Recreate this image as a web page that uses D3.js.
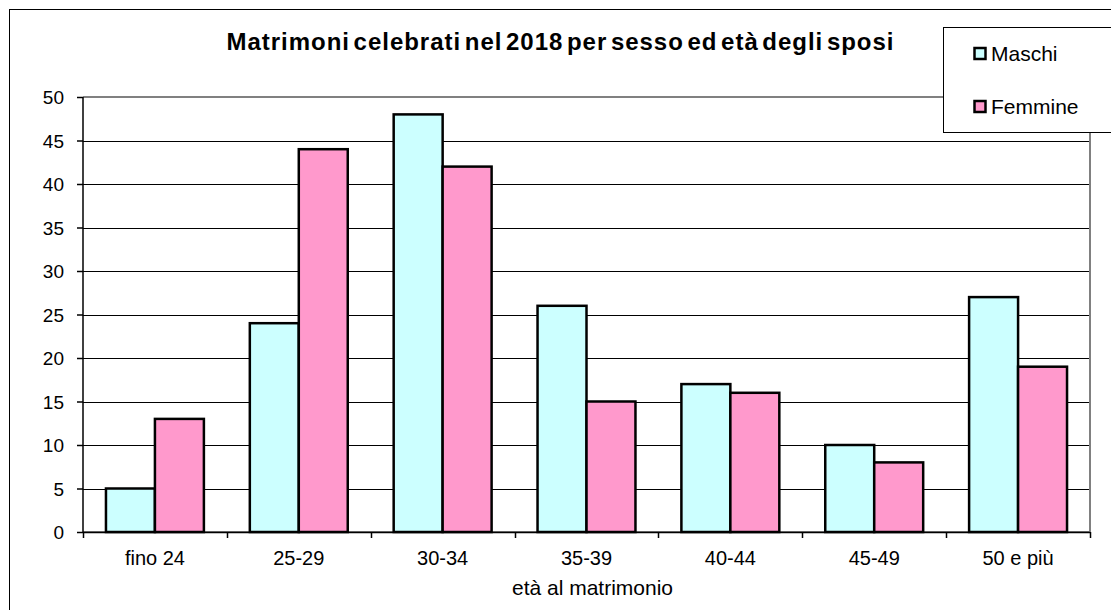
<!DOCTYPE html>
<html><head><meta charset="utf-8">
<script src="https://cdn.jsdelivr.net/npm/d3@7"></script>
<style>body{margin:0;background:#fff}svg{display:block}text{font-family:"Liberation Sans",Arial,sans-serif}</style>
</head><body>
<svg id="c" width="1111" height="610"></svg>
<script>
const categories = ["fino 24","25-29","30-34","35-39","40-44","45-49","50 e più"];
const maschi = [5,24,48,26,17,10,27];
const femmine = [13,44,42,15,16,8,19];
const yTicks = [0,5,10,15,20,25,30,35,40,45,50];
const seriesNames = ["Maschi","Femmine"];
const colors = ["#CCFFFF","#FF99CC"];

const svg = d3.select("#c");
const L = 83, R = 1090, T = 97, B = 532;
const FF = "Liberation Sans, Arial, sans-serif";

svg.append("rect").attr("x",9.5).attr("y",9.5).attr("width",1120).attr("height",620)
  .attr("fill","#fff").attr("stroke","#000").attr("stroke-width",1);

const x = d3.scaleBand().domain(categories).range([L,R]).paddingInner(0).paddingOuter(0);
const xs = d3.scaleBand().domain(seriesNames).range([0,x.bandwidth()]).paddingInner(0).paddingOuter(0.469);
const y = d3.scaleLinear().domain([0,50]).range([B,T]);

// gridlines
svg.append("g").selectAll("line").data(yTicks.filter(d=>d>0 && d<50)).join("line")
  .attr("x1",L).attr("x2",R).attr("y1",d=>Math.round(y(d))+0.5).attr("y2",d=>Math.round(y(d))+0.5)
  .attr("stroke","#000").attr("stroke-width",1);
// plot border (gray)
svg.append("line").attr("x1",L).attr("x2",R).attr("y1",T).attr("y2",T).attr("stroke","#808080").attr("stroke-width",2);
svg.append("line").attr("x1",R).attr("x2",R).attr("y1",T).attr("y2",B).attr("stroke","#808080").attr("stroke-width",2);
svg.append("line").attr("x1",L).attr("x2",R).attr("y1",B).attr("y2",B).attr("stroke","#808080").attr("stroke-width",2);

// bars
const data = categories.map((c,i)=>({c, vals:[maschi[i],femmine[i]]}));
const g = svg.append("g");
data.forEach(d=>{
  d.vals.forEach((v,j)=>{
    g.append("rect").attr("x",x(d.c)+xs(seriesNames[j])).attr("y",y(v))
      .attr("width",xs.bandwidth()).attr("height",B-y(v))
      .attr("fill",colors[j]).attr("stroke","#000").attr("stroke-width",2.5);
  });
});

// y axis
const ya = svg.append("g").attr("transform",`translate(${L},0)`)
  .call(d3.axisLeft(y).tickValues(yTicks).tickSize(6).tickPadding(13));
ya.select(".domain").attr("stroke","#000").attr("stroke-width",1.5).attr("d",`M0,${T}V${B}`);
ya.selectAll(".tick line").attr("stroke","#000").attr("stroke-width",1.5);
ya.selectAll("text").attr("font-size",19).attr("fill","#000").attr("dy","0.36em").style("font-family",FF);

// x axis
const xa = svg.append("g").attr("transform",`translate(0,${B})`)
  .call(d3.axisBottom(x).tickSize(0).tickPadding(0));
xa.select(".domain").remove();
xa.selectAll("text").attr("font-size",20).attr("fill","#000").attr("dy",0).attr("y",33).style("font-family",FF);
svg.append("line").attr("x1",L).attr("x2",R).attr("y1",B+0.5).attr("y2",B+0.5).attr("stroke","#000").attr("stroke-width",1.5);
svg.append("g").selectAll("line").data(categories.concat(["_end"])).join("line")
  .attr("x1",(d,i)=>Math.round(L+i*x.bandwidth())+0.5).attr("x2",(d,i)=>Math.round(L+i*x.bandwidth())+0.5)
  .attr("y1",B).attr("y2",B+6).attr("stroke","#000").attr("stroke-width",1.5);

svg.append("text").attr("x",(L+R)/2+6).attr("y",595).attr("text-anchor","middle")
  .attr("font-size",21).text("età al matrimonio");

// title
svg.append("text").attr("x",560).attr("y",50).attr("text-anchor","middle")
  .attr("font-size",24).attr("font-weight","bold").attr("word-spacing",-4)
  .attr("textLength",667).attr("lengthAdjust","spacing")
  .text("Matrimoni celebrati nel 2018 per sesso ed età degli sposi");

// legend
const lg = svg.append("g");
lg.append("rect").attr("x",943.5).attr("y",27.5).attr("width",200).attr("height",105)
  .attr("fill","#fff").attr("stroke","#000").attr("stroke-width",1);
seriesNames.forEach((n,i)=>{
  const cy = 54 + i*53;
  lg.append("rect").attr("x",974.5).attr("y",cy-6).attr("width",11).attr("height",11)
    .attr("fill",colors[i]).attr("stroke","#000").attr("stroke-width",2.5);
  lg.append("text").attr("x",991).attr("y",cy+7).attr("font-size",21).text(n);
});
</script>
</body></html>
